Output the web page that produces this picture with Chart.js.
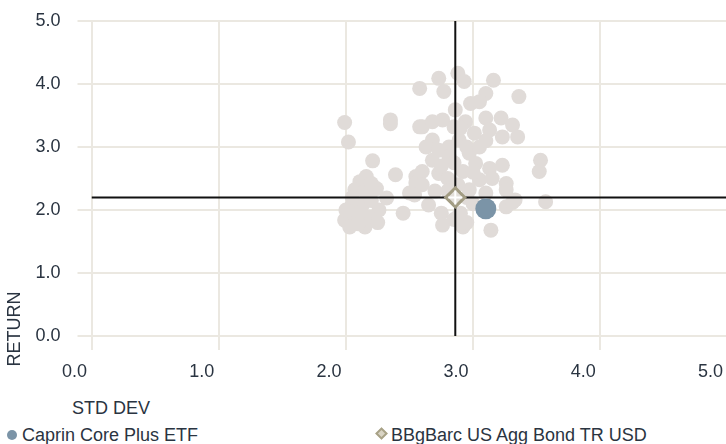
<!DOCTYPE html>
<html>
<head>
<meta charset="utf-8">
<script src="https://cdn.jsdelivr.net/npm/chart.js@4.4.0/dist/chart.umd.min.js"></script>
<style>
    html, body { margin: 0; padding: 0; width: 726px; height: 444px; overflow: hidden; background: #fff; }
    body { position: relative; font-family: "Liberation Sans", Arial, sans-serif; color: #2a3441; }
    #wrap { position: absolute; left: 0; top: 0; width: 740px; height: 380px; }
    .txt { position: absolute; font-size: 18px; line-height: 18px; white-space: nowrap; }
    #yTitle { left: -36px; top: 320px; width: 100px; text-align: center; transform: rotate(-90deg); }
    .dot { position: absolute; width: 10px; height: 10px; border-radius: 50%; background: #7b94a7; }
    .dia { position: absolute; width: 5px; height: 5px; border: 2px solid #a8a287; background: #d9d4c4; transform: rotate(45deg); }
</style>
</head>
<body>
<div id="wrap"><canvas id="riskChart" width="740" height="380"></canvas></div>
<div class="txt" id="yTitle">RETURN</div>
<div class="txt" style="left:72px; top:399px;">STD DEV</div>
<span class="dot" style="left:7px; top:430px;"></span>
<div class="txt" style="left:22px; top:426px;">Caprin Core Plus ETF</div>
<span class="dia" style="left:377px; top:429px;"></span>
<div class="txt" style="left:391px; top:426px;">BBgBarc US Agg Bond TR USD</div>
<script>
// 비교군 (peer) 표준편차 / 수익률
const peerStdDev = [
    1.99, 2.02, 2.35, 2.35, 2.58, 2.58, 2.73, 2.88, 2.93, 3.16,
    2.77, 3.36, 3.10, 2.98, 3.05, 2.86, 2.60, 2.68, 2.76, 2.85,
    2.94, 3.10, 3.22, 3.31, 3.01, 3.13, 3.23, 3.35, 2.68, 2.89,
    2.81, 2.21, 2.39, 2.16, 2.11, 2.07, 2.24, 2.32, 2.50, 2.04,
    2.13, 2.26, 1.99, 2.08, 2.15, 2.03, 2.45, 2.18, 2.55, 2.55,
    2.63, 2.73, 2.68, 2.81, 2.97, 3.02, 2.60, 2.73, 2.92, 3.13,
    3.23, 3.53, 3.52, 2.60, 3.05, 3.15, 3.26, 3.33, 3.26, 2.54,
    2.65, 2.75, 2.89, 2.92, 2.76, 3.14, 3.10, 2.97, 3.57, 3.26,
    3.31, 2.05, 2.10, 2.20, 2.15, 2.00, 2.25, 2.20, 2.10, 2.85,
    2.90, 2.95, 2.80, 2.88, 2.95, 2.80, 2.70, 3.00, 2.85, 2.95,
    3.05, 3.00, 2.75, 3.10, 2.90
];
const peerReturn = [
    3.39, 3.08, 3.43, 3.37, 3.93, 3.32, 4.09, 4.17, 4.04, 4.06,
    3.88, 3.80, 3.85, 3.69, 3.72, 3.59, 3.32, 3.40, 3.43, 3.32,
    3.40, 3.46, 3.46, 3.35, 3.22, 3.27, 3.16, 3.16, 3.11, 3.11,
    3.00, 2.78, 2.56, 2.53, 2.45, 2.32, 2.34, 2.19, 2.27, 2.05,
    2.08, 2.00, 1.84, 1.87, 1.73, 1.73, 1.95, 1.89, 2.53, 2.43,
    3.00, 2.95, 2.79, 2.85, 2.90, 2.74, 2.61, 2.58, 2.61, 2.66,
    2.71, 2.79, 2.61, 2.40, 2.48, 2.50, 2.42, 2.16, 2.05, 2.24,
    2.08, 1.95, 1.92, 1.73, 1.76, 1.68, 2.27, 2.32, 2.13, 2.32,
    2.12, 2.20, 1.95, 2.15, 2.30, 2.00, 1.80, 2.42, 1.78, 2.75,
    3.30, 3.00, 2.50, 2.40, 2.20, 2.30, 2.30, 2.10, 1.85, 1.80,
    3.00, 2.60, 2.70, 3.10, 1.95
];

// 펀드 / 벤치마크
const fundStdDev = [3.10];
const fundReturn = [2.02];
const benchStdDev = [2.86];
const benchReturn = [2.20];

// 축 눈금
const axisTicks = [0, 1, 2, 3, 4, 5];

const textColor = '#2a3441';
const gridColor = '#ebe8e1';

function toPoints(xs, ys) {
    return xs.map((x, i) => ({ x: x, y: ys[i] }));
}

const axisMin = axisTicks[0];
const axisMax = axisTicks[axisTicks.length - 1];

const ctx = document.getElementById('riskChart').getContext('2d');
new Chart(ctx, {
    type: 'scatter',
    data: {
        datasets: [
            {   // 벤치마크 안쪽 흰 십자
                data: toPoints(benchStdDev, benchReturn),
                pointStyle: 'cross',
                pointRadius: 7,
                borderColor: '#ffffff',
                borderWidth: 2,
                order: 0
            },
            {   // 벤치마크 마름모
                data: toPoints(benchStdDev, benchReturn),
                pointStyle: 'rectRot',
                pointRadius: 9.5,
                backgroundColor: '#e3dfda',
                borderColor: '#a29c83',
                borderWidth: 3,
                order: 1
            },
            {
                data: toPoints(fundStdDev, fundReturn),
                pointRadius: 10.5,
                backgroundColor: '#7b94a7',
                borderWidth: 0,
                order: 2
            },
            {   // 가로 기준선
                type: 'line',
                data: [{ x: axisMin, y: benchReturn[0] }, { x: axisMax, y: benchReturn[0] }],
                borderColor: '#111111',
                borderWidth: 2,
                pointRadius: 0,
                order: 3
            },
            {   // 세로 기준선
                type: 'line',
                data: [{ x: benchStdDev[0], y: axisMin }, { x: benchStdDev[0], y: axisMax }],
                borderColor: '#111111',
                borderWidth: 2,
                pointRadius: 0,
                order: 3
            },
            {
                data: toPoints(peerStdDev, peerReturn),
                pointRadius: 7.5,
                backgroundColor: '#e0dbd8',
                borderWidth: 0,
                order: 4
            }
        ]
    },
    options: {
        responsive: false,
        animation: false,
        events: [],
        layout: { padding: { top: 21, right: 11, bottom: 0, left: 0 } },
        plugins: {
            legend: { display: false },
            tooltip: { enabled: false }
        },
        scales: {
            x: {
                type: 'linear',
                min: axisMin,
                max: axisMax,
                border: { display: false },
                grid: { color: gridColor, lineWidth: 2, tickLength: 14 },
                ticks: {
                    stepSize: 1,
                    color: textColor,
                    font: { family: 'Liberation Sans', size: 18 },
                    padding: 11,
                    labelOffset: -17,
                    maxRotation: 0,
                    callback: v => v.toFixed(1)
                },
                afterFit: s => { s.height = 44; s.paddingLeft = 0; s.paddingRight = 0; }
            },
            y: {
                type: 'linear',
                min: axisMin,
                max: axisMax,
                border: { display: false },
                grid: { color: gridColor, lineWidth: 2, tickLength: 14 },
                ticks: {
                    stepSize: 1,
                    color: textColor,
                    font: { family: 'Liberation Sans', size: 18 },
                    padding: 17,
                    callback: v => v.toFixed(1)
                },
                afterFit: s => { s.width = 91.5; s.paddingTop = 0; s.paddingBottom = 0; }
            }
        }
    }
});
</script>
</body>
</html>
